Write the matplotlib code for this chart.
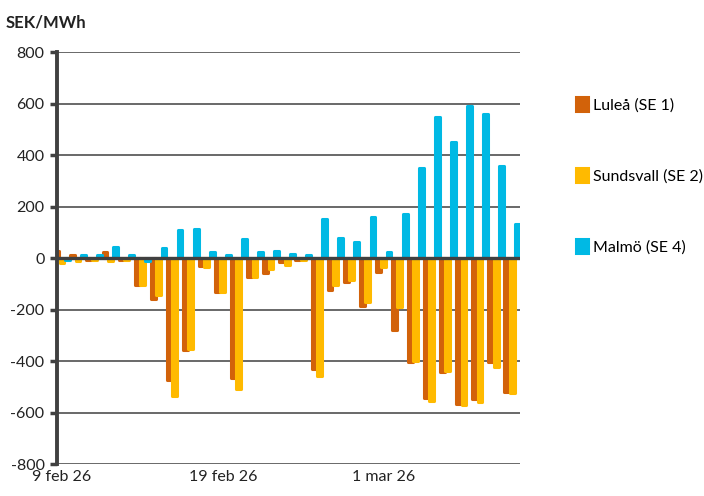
import numpy as np
import matplotlib.pyplot as plt

plt.rcParams['font.family'] = ['Lato', 'DejaVu Sans']
plt.rcParams['axes.unicode_minus'] = False

# data: daily values 9 feb 26 .. 9 mar 26 (SEK/MWh)
tick_pos = [0, 10, 20]
tick_labels = ['9 feb 26', '19 feb 26', '1 mar 26']
lulea = [27, 13, -8, 25, -7, -104, -160, -474, -358, -30,
         -132, -465, -75, -58, -14, -8, -432, -126, -93, -187,
         -55, -280, -403, -543, -444, -567, -548, -403, -522]
sundsvall = [-20, -11, -8, -10, -7, -104, -145, -536, -354, -36,
             -132, -509, -75, -42, -26, -7, -457, -106, -87, -170,
             -36, -190, -399, -554, -439, -571, -558, -422, -526]
malmo = [-8, 13, 13, 42, 13, -11, 38, 108, 114, 23,
         13, 73, 23, 28, 17, 13, 153, 77, 63, 160,
         23, 170, 349, 548, 452, 589, 561, 359, 134]
series = [('Luleå (SE 1)', lulea, '#D2620A', -0.33),
          ('Sundsvall (SE 2)', sundsvall, '#FFBA00', 0.0),
          ('Malmö (SE 4)', malmo, '#00B9E4', 0.34)]

fig = plt.figure(figsize=(7.04, 4.96), dpi=100)
ax = fig.add_axes([0.081, 0.0645, 0.658, 0.8305])

x = np.arange(len(lulea))
for i, (name, vals, col, off) in enumerate(series):
    ax.bar(x + off, vals, width=0.3, color=col, edgecolor=col,
           linewidth=2.2, joinstyle='round', label=name, zorder=2 + i)

ax.axhline(0, color='#404040', lw=2.4, zorder=10)
ax.set_ylim(-800, 800)
ax.set_xlim(-0.31, 28.5)
ax.set_yticks(range(-800, 801, 200))
ax.grid(axis='y', color='#404040', lw=1.1)
ax.set_axisbelow(True)
ax.set_xticks(tick_pos)
ax.set_xticklabels(tick_labels)
ax.tick_params(axis='x', length=0, pad=4, labelsize=11.5, colors='#222222')
ax.tick_params(axis='y', length=5, width=2.5, color='#404040', pad=4,
               labelsize=11.5, labelcolor='#222222')
for s in ['top', 'right', 'bottom']:
    ax.spines[s].set_visible(False)
ax.spines['left'].set_color('#404040')
ax.spines['left'].set_linewidth(2.8)

fig.text(0.008, 0.955, 'SEK/MWh', fontsize=12, fontweight='bold',
         color='#222222', va='center')

ax.legend(loc='upper left', bbox_to_anchor=(1.09, 0.925), frameon=False,
          handlelength=0.75, handleheight=0.9, handletextpad=0.3,
          labelspacing=3.5, fontsize=11.5)

plt.savefig('out.png', dpi=100)
